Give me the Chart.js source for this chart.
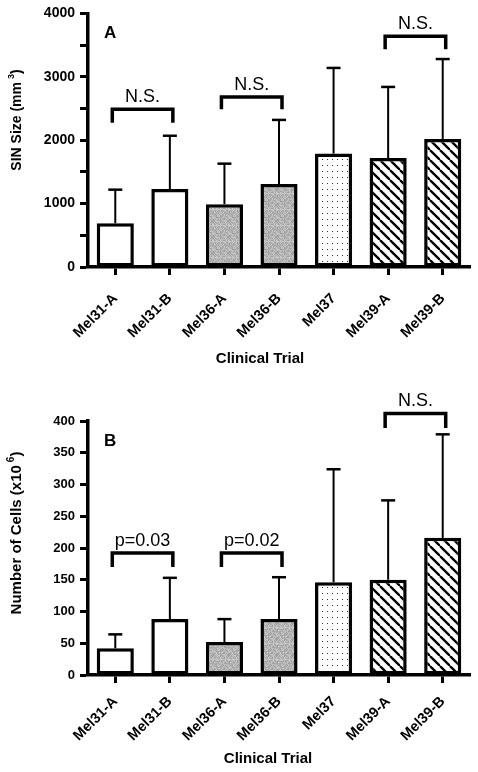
<!DOCTYPE html>
<html>
<head>
<meta charset="utf-8">
<script src="https://cdn.jsdelivr.net/npm/chart.js@4.4.0/dist/chart.umd.min.js"></script>
<style>
  html, body { margin: 0; padding: 0; background: #fff; }
  .panel { width: 478px; height: 386px; }
</style>
</head>
<body>
<div class="panel"><canvas id="sizeChart" width="478" height="386"></canvas></div>
<div class="panel"><canvas id="cellChart" width="478" height="386"></canvas></div>
<script>
const trials = ["Mel31-A", "Mel31-B", "Mel36-A", "Mel36-B", "Mel37", "Mel39-A", "Mel39-B"];

// panel A - SIN size (mm3), mean and upper SD
const sinSize = [690, 1230, 990, 1310, 1790, 1720, 2020];
const sinSizeSd = [530, 840, 640, 1010, 1350, 1120, 1260];
// panel B - number of cells (x10^6)
const cellCount = [42, 88, 52, 88, 146, 150, 216];
const cellCountSd = [22, 65, 36, 66, 178, 125, 163];

// comparison brackets: pairs of bar indexes
const bracketPairs = [[0, 1], [2, 3], [5, 6]];
const sinBracketTop = [2490, 2680, 3640];
const sinBracketLeg = [2275, 2490, 3435];
const sinBracketText = ["N.S.", "N.S.", "N.S."];
const cellBracketTop = [192, 192, 412];
const cellBracketLeg = [170, 170, 389];
const cellBracketText = ["p=0.03", "p=0.02", "N.S."];

const FONT = '"Liberation Sans", Arial, sans-serif';

function makeTile(w, h, draw) {
    const c = document.createElement("canvas");
    c.width = w;
    c.height = h;
    draw(c.getContext("2d"), w, h);
    return c;
}

function barFills(ctx) {
    const grey = makeTile(16, 16, (g, w, h) => {
        for (let i = 0; i < w; i++) {
            for (let j = 0; j < h; j++) {
                const v = 155 + ((i * 37 + j * 91 + i * j * 13) % 50);
                g.fillStyle = `rgb(${v},${v},${v})`;
                g.fillRect(i, j, 1, 1);
            }
        }
    });
    const dots = makeTile(5, 6, (g) => {
        g.fillStyle = "#fff";
        g.fillRect(0, 0, 5, 6);
        g.fillStyle = "#333";
        g.fillRect(2, 3, 1, 1);
    });
    const hatch = makeTile(10, 10, (g, s) => {
        g.fillStyle = "#fff";
        g.fillRect(0, 0, s, s);
        g.strokeStyle = "#000";
        g.lineWidth = 2.3;
        for (let k = -1; k <= 1; k++) {
            g.beginPath();
            g.moveTo(k * s, 0);
            g.lineTo(k * s + s, s);
            g.stroke();
        }
    });
    const greyP = ctx.createPattern(grey, "repeat");
    const dotP = ctx.createPattern(dots, "repeat");
    const hatchP = ctx.createPattern(hatch, "repeat");
    return ["#fff", "#fff", greyP, greyP, dotP, hatchP, hatchP];
}

// error bars, brackets and the texts Chart.js cannot place itself
const annotPlugin = {
    id: "annot",
    afterDraw(chart, args, o) {
        const ctx = chart.ctx;
        const xs = chart.scales.x;
        const ys = chart.scales.y;
        ctx.save();
        ctx.strokeStyle = "#000";
        ctx.fillStyle = "#000";

        o.means.forEach((v, i) => {
            const cx = xs.getPixelForValue(i);
            const y0 = ys.getPixelForValue(v);
            const y1 = ys.getPixelForValue(v + o.sd[i]);
            ctx.lineWidth = 2;
            ctx.beginPath();
            ctx.moveTo(cx, y0);
            ctx.lineTo(cx, y1);
            ctx.stroke();
            ctx.lineWidth = 2.5;
            ctx.beginPath();
            ctx.moveTo(cx - 7, y1);
            ctx.lineTo(cx + 7, y1);
            ctx.stroke();
        });

        ctx.lineWidth = 3.5;
        ctx.font = "18px " + FONT;
        ctx.textAlign = "center";
        ctx.textBaseline = "alphabetic";
        bracketPairs.forEach((p, i) => {
            const lx = xs.getPixelForValue(p[0]) - 3;
            const rx = xs.getPixelForValue(p[1]) + 3;
            const ty = ys.getPixelForValue(o.top[i]);
            const ly = ys.getPixelForValue(o.leg[i]);
            ctx.beginPath();
            ctx.moveTo(lx, ly);
            ctx.lineTo(lx, ty);
            ctx.lineTo(rx, ty);
            ctx.lineTo(rx, ly);
            ctx.stroke();
            ctx.fillText(o.text[i], (lx + rx) / 2, ty - 7);
        });

        // panel letter
        ctx.font = "bold 17px " + FONT;
        ctx.textAlign = "left";
        ctx.textBaseline = "middle";
        ctx.fillText(o.letter, 104, o.letterY);

        // x title
        ctx.font = "bold 15px " + FONT;
        ctx.textAlign = "center";
        ctx.fillText("Clinical Trial", o.xTitle[0], o.xTitle[1]);

        // y title with superscript
        ctx.translate(17, o.yTitleY);
        ctx.rotate(-Math.PI / 2);
        const mainFont = "bold " + o.yTitleSize + "px " + FONT;
        const supFont = "bold " + Math.round(o.yTitleSize * 0.65) + "px " + FONT;
        ctx.font = mainFont;
        const w1 = ctx.measureText(o.yTitle[0]).width;
        const w3 = ctx.measureText(")").width;
        ctx.font = supFont;
        const w2 = ctx.measureText(o.yTitle[1]).width;
        let x0 = -(w1 + w2 + w3 + 3) / 2;
        ctx.textAlign = "left";
        ctx.textBaseline = "middle";
        ctx.font = mainFont;
        ctx.fillText(o.yTitle[0], x0, 0);
        ctx.font = supFont;
        ctx.fillText(o.yTitle[1], x0 + w1 + 3, -o.yTitleSize * 0.4);
        ctx.font = mainFont;
        ctx.fillText(")", x0 + w1 + w2 + 3, 0);
        ctx.restore();
    }
};

function buildChart(id, cfg) {
    const canvas = document.getElementById(id);
    const ctx = canvas.getContext("2d");
    return new Chart(ctx, {
        type: "bar",
        data: {
            labels: trials,
            datasets: [{
                data: cfg.means,
                backgroundColor: barFills(ctx),
                borderColor: "#000",
                borderWidth: 3.5,
                borderSkipped: false,
                barPercentage: 0.68,
                categoryPercentage: 1
            }]
        },
        plugins: [annotPlugin],
        options: {
            responsive: false,
            animation: false,
            layout: { padding: { top: cfg.padTop, right: 8, left: 0, bottom: 0 } },
            plugins: {
                legend: { display: false },
                tooltip: { enabled: false },
                annot: cfg
            },
            scales: {
                x: {
                    offset: true,
                    ticks: {
                        color: "#000",
                        font: { family: FONT, size: 14.5, weight: "bold" },
                        minRotation: 45,
                        maxRotation: 45,
                        autoSkip: false,
                        padding: cfg.xPad
                    },
                    grid: { offset: false, drawOnChartArea: false, tickLength: 8, tickWidth: 3, tickColor: "#000" },
                    border: { color: "#000", width: 3.5 },
                    afterFit: (s) => { s.height = cfg.xHeight; }
                },
                y: {
                    min: 0,
                    max: cfg.yMax,
                    ticks: {
                        stepSize: cfg.step,
                        color: "#000",
                        padding: 5,
                        font: { family: FONT, size: cfg.tickSize, weight: "bold" },
                        callback: (v) => (v % cfg.labelEvery === 0 ? v : "")
                    },
                    grid: { drawOnChartArea: false, tickLength: 8, tickWidth: 3, tickColor: "#000" },
                    border: { color: "#000", width: 3.5 },
                    afterFit: (s) => { s.width = 88; }
                }
            }
        }
    });
}

buildChart("sizeChart", {
    means: sinSize, sd: sinSizeSd,
    top: sinBracketTop, leg: sinBracketLeg, text: sinBracketText,
    yMax: 4000, step: 500, labelEvery: 1000, tickSize: 14,
    padTop: 12, xHeight: 119, xPad: 15,
    letter: "A", letterY: 33,
    xTitle: [260, 359],
    yTitle: ["SIN Size (mm", "3"], yTitleY: 120, yTitleSize: 14
});

buildChart("cellChart", {
    means: cellCount, sd: cellCountSd,
    top: cellBracketTop, leg: cellBracketLeg, text: cellBracketText,
    yMax: 400, step: 50, labelEvery: 50, tickSize: 13,
    padTop: 35, xHeight: 97, xPad: 10,
    letter: "B", letterY: 55,
    xTitle: [268, 373],
    yTitle: ["Number of Cells (x10", "6"], yTitleY: 147, yTitleSize: 15
});
</script>
</body>
</html>
